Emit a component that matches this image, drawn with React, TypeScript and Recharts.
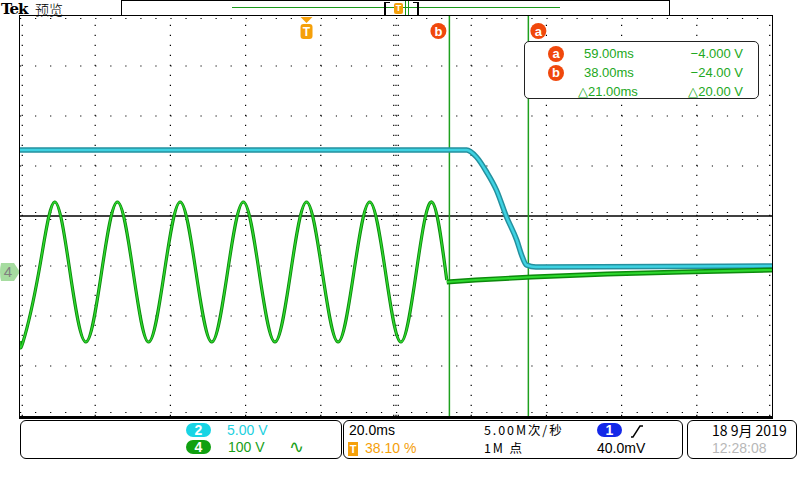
import React from 'react';
import { LineChart, Line, XAxis, YAxis, ReferenceLine } from 'recharts';

// time in ms relative to the trigger, level in screen divisions from centre
const sineTimes = [-76.2, -75.4, -71.2, -67.0, -62.9, -58.7, -54.5, -50.3, -46.1, -42.0, -37.8, -33.6, -29.4, -25.2, -21.0, -16.8, -12.6, -8.4, -4.2, 0.0, 4.2, 8.4, 12.6, 16.8, 21.0, 25.1, 29.2, 33.3, 37.3];
const sineDivs = [-2.5, -2.52, -1.12, 0.28, -1.12, -2.52, -1.12, 0.28, -1.12, -2.52, -1.12, 0.28, -1.12, -2.52, -1.12, 0.28, -1.12, -2.52, -1.12, 0.28, -1.12, -2.52, -1.12, 0.28, -1.12, -2.52, -1.12, 0.28, -1.28];
const tailTimes = [37.3, 45, 60, 80, 100, 123.8];
const tailDivs = [-1.32, -1.28, -1.22, -1.16, -1.12, -1.08];
const ch2Times = [-76.2, 42.6, 45.2, 47.9, 50.5, 53.2, 55.9, 57.4, 58.5, 61, 123.8];
const ch2Divs = [1.32, 1.32, 1.18, 0.88, 0.52, -0.02, -0.48, -0.82, -0.98, -1.02, -1.0];

const xDomain = [-76.2, 123.8];
const xGrid = [-56.2, -36.2, -16.2, 3.8, 23.8, 43.8, 63.8, 83.8, 103.8];
const yGrid = [-3, -2, -1, 1, 2, 3];
const cursorA = 59;
const cursorB = 38;
const ch4Ground = -1.12;

const readoutRows = [
  { tag: 'a', time: '59.00ms', volts: '−4.000 V' },
  { tag: 'b', time: '38.00ms', volts: '−24.00 V' },
  { tag: '', time: '△21.00ms', volts: '△20.00 V' },
];

const sineData = sineTimes.map((t, i) => ({ t, v: sineDivs[i] }));
const tailData = tailTimes.map((t, i) => ({ t, v: tailDivs[i] }));
const ch2Data = ch2Times.map((t, i) => ({ t, v: ch2Divs[i] }));

const SANS = '"Liberation Sans", Arial, sans-serif';
const CJK = '"Noto Sans CJK SC", "Liberation Sans", sans-serif';
const TAG = '#f0480c';
const CURSOR = '#1ea01e';
const ORANGE = '#f5a00a';

function Badge({ letter, size = 16 }: { letter: string; size?: number }) {
  return (
    <span style={{
      display: 'inline-block', width: size, height: size, borderRadius: '50%', background: TAG,
      color: '#fff', fontWeight: 'bold', fontSize: size - 3, lineHeight: `${size - 1}px`, textAlign: 'center',
      fontFamily: SANS,
    }}>{letter}</span>
  );
}

function Pill({ text, bg, left, top }: { text: string; bg: string; left: number; top: number }) {
  return (
    <div style={{
      position: 'absolute', left, top, width: 25, height: 14, borderRadius: 7, background: bg,
      color: '#fff', fontFamily: SANS, fontSize: 14, fontWeight: 'bold', lineHeight: '14px', textAlign: 'center',
    }}>{text}</div>
  );
}

const txt = (left: number, top: number, extra: React.CSSProperties = {}): React.CSSProperties => ({
  position: 'absolute', left, top, lineHeight: '16px', height: 16, whiteSpace: 'nowrap', ...extra,
});

const cursorLabel = (letter: string, dx: number) => (props: any) => {
  const { x, y } = props.viewBox;
  return (
    <g>
      <circle cx={x + dx} cy={y + 15} r={8} fill={TAG} />
      <text x={x + dx} y={y + 19.5} textAnchor="middle" fill="#fff" fontSize={13} fontWeight="bold" fontFamily={SANS}>{letter}</text>
    </g>
  );
};

const triggerLabel = (props: any) => {
  const { x, y } = props.viewBox;
  return (
    <g>
      <path d={`M${x - 6},${y + 1} L${x + 6},${y + 1} L${x},${y + 7} Z`} fill={ORANGE} />
      <rect x={x - 6} y={y + 8} width={12} height={15} rx={3} fill={ORANGE} />
      <text x={x} y={y + 20} textAnchor="middle" fill="#fff" fontSize={12} fontWeight="bold" fontFamily={SANS}>T</text>
    </g>
  );
};

const groundLabel = (props: any) => {
  const { x, y } = props.viewBox;
  return (
    <g>
      <path d={`M${x - 19},${y - 9} L${x - 6},${y - 9} L${x},${y} L${x - 6},${y + 9} L${x - 19},${y + 9} Q${x - 21},${y} ${x - 19},${y - 9} Z`} fill="#a6dca0" />
      <text x={x - 12} y={y + 5} textAnchor="middle" fill="#808080" fontSize={15} fontFamily={SANS}>4</text>
    </g>
  );
};

export default function App() {
  return (
    <div style={{ position: 'fixed', left: 0, top: 0, width: 800, height: 480, background: '#fff', overflow: 'hidden' }}>
      {/* header */}
      <div style={{ position: 'absolute', left: 1, top: 0, height: 18, lineHeight: '18px', whiteSpace: 'nowrap', fontFamily: '"DejaVu Serif", serif', fontWeight: 'bold', fontSize: 15, letterSpacing: -1 }}>Tek</div>
      <div style={{ position: 'absolute', left: 35, top: 0, height: 18, lineHeight: '18px', whiteSpace: 'nowrap', fontFamily: CJK, fontSize: 14, fontWeight: 300 }}>预览</div>
      <div style={{ position: 'absolute', left: 121, top: 0, width: 547, height: 14, border: '1.5px solid #000' }}>
        <div style={{ position: 'absolute', left: 110, top: 6, width: 328, height: 1, background: '#1a9a1a' }} />
        <div style={{ position: 'absolute', left: 262, top: 1, width: 4, height: 12, borderLeft: '2px solid #000', borderTop: '1px solid #000', borderBottom: '1px solid #000' }} />
        <div style={{ position: 'absolute', left: 291, top: 1, width: 4, height: 12, borderRight: '2px solid #000', borderTop: '1px solid #000', borderBottom: '1px solid #000' }} />
        <div style={{ position: 'absolute', left: 272, top: 2, width: 9, height: 11, background: ORANGE, borderRadius: 2, color: '#fff', fontSize: 9, fontWeight: 'bold', textAlign: 'center', lineHeight: '11px', fontFamily: SANS }}>T</div>
        <div style={{ position: 'absolute', left: 283, top: 0, width: 1, height: 14, background: '#1a9a1a' }} />
        <div style={{ position: 'absolute', left: 286, top: 0, width: 1, height: 14, background: '#1a9a1a' }} />
      </div>

      <LineChart width={800} height={480} data={ch2Data} margin={{ top: 16, right: 28, bottom: 64, left: 20 }} style={{ position: 'absolute', left: 0, top: 0 }}>
        <XAxis dataKey="t" type="number" domain={xDomain} hide allowDataOverflow />
        <YAxis type="number" domain={[-4, 4]} hide allowDataOverflow />
        {xGrid.map((x) => (
          <ReferenceLine key={`x${x}`} x={x} stroke="#000" strokeWidth={1.2} strokeDasharray="1.2 8.8" />
        ))}
        {yGrid.map((y) => (
          <ReferenceLine key={`y${y}`} y={y} stroke="#000" strokeWidth={1.2} strokeDasharray="1.2 13.84" />
        ))}
        <ReferenceLine y={0.07} stroke="#000" strokeWidth={1.2} strokeDasharray="1.2 13.84" />
        <ReferenceLine y={-0.07} stroke="#000" strokeWidth={1.2} strokeDasharray="1.2 13.84" />
        <ReferenceLine x={23.2} stroke="#000" strokeWidth={1.2} strokeDasharray="1.2 8.8" />
        <ReferenceLine x={24.4} stroke="#000" strokeWidth={1.2} strokeDasharray="1.2 8.8" />
        <ReferenceLine x={-75.6} stroke="#000" strokeWidth={1.2} strokeDasharray="1.2 8.8" />
        <ReferenceLine x={123.2} stroke="#000" strokeWidth={1.2} strokeDasharray="1.2 8.8" />
        <ReferenceLine y={3.95} stroke="#000" strokeWidth={1.2} strokeDasharray="1.2 13.84" />
        <ReferenceLine y={-3.93} stroke="#000" strokeWidth={1.2} strokeDasharray="1.2 13.84" />
        <ReferenceLine y={0} stroke="#000" strokeWidth={1.5} />
        <ReferenceLine x={cursorB} stroke={CURSOR} strokeWidth={1.5} label={cursorLabel('b', -11)} />
        <ReferenceLine x={cursorA} stroke={CURSOR} strokeWidth={1.5} label={cursorLabel('a', 10)} />
        <ReferenceLine x={0} stroke="none" label={triggerLabel} />
        <ReferenceLine y={ch4Ground} stroke="none" label={groundLabel} />
        <Line data={ch2Data} dataKey="v" type="monotone" stroke="#24909e" strokeWidth={5.5} dot={false} isAnimationActive={false} />
        <Line data={ch2Data} dataKey="v" type="monotone" stroke="#3ed2e2" strokeWidth={2.5} dot={false} isAnimationActive={false} />
        <Line data={tailData} dataKey="v" type="linear" stroke="#0c8a0c" strokeWidth={5} dot={false} isAnimationActive={false} />
        <Line data={tailData} dataKey="v" type="linear" stroke="#2ed82e" strokeWidth={2.2} dot={false} isAnimationActive={false} />
        <Line data={sineData} dataKey="v" type="natural" stroke="#0c8a0c" strokeWidth={3.2} dot={false} isAnimationActive={false} />
        <Line data={sineData} dataKey="v" type="natural" stroke="#2ed82e" strokeWidth={1.4} dot={false} isAnimationActive={false} />
      </LineChart>

      {/* screen frame */}
      <div style={{ position: 'absolute', left: 19, top: 15, width: 752, height: 400, borderLeft: '1.5px solid #000', borderTop: '1.5px solid #000', borderRight: '1.5px solid #000', borderBottom: '3px solid #000', pointerEvents: 'none' }} />

      {/* cursor readout */}
      <div style={{ position: 'absolute', left: 524, top: 41, width: 233, height: 56, border: '1.5px solid #222', borderRadius: 5, background: '#fff', fontFamily: SANS, fontSize: 13, color: '#22a822' }}>
        {readoutRows.map((r, i) => (
          <div key={i} style={{ position: 'absolute', left: 0, top: 3 + i * 19, width: 233, height: 18 }}>
            {r.tag && <div style={{ position: 'absolute', left: 23, top: 1 }}><Badge letter={r.tag} /></div>}
            <div style={txt(r.tag ? 59 : 53, 1)}>{r.time}</div>
            <div style={{ position: 'absolute', right: 15, top: 1, lineHeight: '16px', whiteSpace: 'nowrap' }}>{r.volts}</div>
          </div>
        ))}
      </div>

      {/* bottom panels */}
      <div style={{ position: 'absolute', left: 20, top: 420, width: 320, height: 37, border: '1.5px solid #000', borderRadius: 6, fontFamily: SANS, fontSize: 14 }}>
        <Pill text="2" bg="#18d4e4" left={165} top={2} />
        <Pill text="4" bg="#10a010" left={165} top={19} />
        <div style={txt(206, 1, { color: '#22d0e0' })}>5.00 V</div>
        <div style={txt(207, 18, { color: '#18a018' })}>100 V</div>
        <div style={txt(268, 18, { color: '#18a018', fontFamily: '"DejaVu Sans", sans-serif', fontSize: 18 })}>∿</div>
      </div>
      <div style={{ position: 'absolute', left: 343, top: 420, width: 338, height: 37, border: '1.5px solid #000', borderRadius: 6, fontFamily: SANS, fontSize: 14 }}>
        <div style={txt(5, 1)}>20.0ms</div>
        <div style={{ position: 'absolute', left: 4, top: 21, width: 10, height: 14, background: ORANGE, color: '#fff', fontSize: 11, fontWeight: 'bold', lineHeight: '14px', textAlign: 'center' }}>T</div>
        <div style={txt(21, 19, { color: ORANGE })}>38.10 %</div>
        <div style={{ position: 'absolute', left: 140, top: 0, height: 18, lineHeight: '18px', whiteSpace: 'nowrap', fontFamily: CJK, fontSize: 12.5, letterSpacing: 1.9 }}>5.00M次/秒</div>
        <div style={{ position: 'absolute', left: 140, top: 18, height: 18, lineHeight: '18px', whiteSpace: 'nowrap', fontFamily: CJK, fontSize: 12.5, letterSpacing: 1.9 }}>1M 点</div>
        <Pill text="1" bg="#1428e8" left={253} top={2} />
        <svg style={{ position: 'absolute', left: 286, top: 3 }} width={14} height={14}>
          <path d="M1,13 L3,13 L10,2 L13,2" stroke="#000" strokeWidth={1.4} fill="none" />
        </svg>
        <div style={txt(253, 19)}>40.0mV</div>
      </div>
      <div style={{ position: 'absolute', left: 687, top: 420, width: 108, height: 37, border: '1.5px solid #000', borderRadius: 6, fontFamily: CJK, fontSize: 14 }}>
        <div style={txt(24, 1)}>18 9月 2019</div>
        <div style={txt(24, 19, { color: '#b8b8b8', fontFamily: SANS })}>12:28:08</div>
      </div>
    </div>
  );
}
